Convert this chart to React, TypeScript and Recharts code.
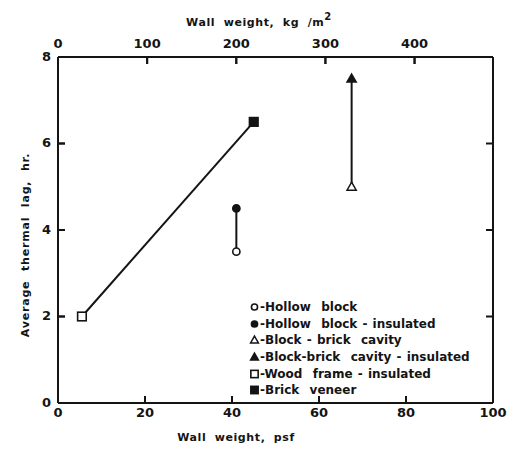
import React from "react";
import { ScatterChart, Scatter, XAxis, YAxis, Legend } from "recharts";

// wall types, in legend order
const wallTypes = [
  "Hollow  block",
  "Hollow  block - insulated",
  "Block - brick  cavity",
  "Block-brick  cavity - insulated",
  "Wood  frame - insulated",
  "Brick  veneer",
];
const weightPsf = [41, 41, 67.5, 67.5, 5.5, 45];
const lagHours = [3.5, 4.5, 5, 7.5, 2, 6.5];
// index pairs joined by a line (uninsulated -> insulated)
const pairs = [
  [4, 5],
  [0, 1],
  [2, 3],
];

const psfTicks = [0, 20, 40, 60, 80, 100];
const kgTicks = [0, 100, 200, 300, 400];
const lagTicks = [0, 2, 4, 6, 8];
const rightTicks = [2, 4, 6];
const KG_PER_PSF = 4.88;

const marks = [
  { shape: "circle", filled: false },
  { shape: "circle", filled: true },
  { shape: "triangle", filled: false },
  { shape: "triangle", filled: true },
  { shape: "square", filled: false },
  { shape: "square", filled: true },
];

const INK = "#141414";
const FONT = "'DejaVu Sans', sans-serif";
const TICK = 7;

function Marker({ cx, cy, shape, filled, scale = 1 }: any) {
  const fill = filled ? INK : "#fff";
  if (shape === "circle")
    return <circle cx={cx} cy={cy} r={3.6 * scale} fill={fill} stroke={INK} strokeWidth={1.6} />;
  if (shape === "square") {
    const h = 4.3 * scale;
    return <rect x={cx - h} y={cy - h} width={2 * h} height={2 * h} fill={fill} stroke={INK} strokeWidth={1.6} />;
  }
  const s = 4.6 * scale;
  return (
    <polygon
      points={`${cx},${cy - s} ${cx + s},${cy + s * 0.75} ${cx - s},${cy + s * 0.75}`}
      fill={fill}
      stroke={INK}
      strokeWidth={1.5}
    />
  );
}

// inward tick marks, drawn at points placed by the axis scales
const tickMark = (dx: number, dy: number) => (p: any) =>
  <line x1={p.cx} y1={p.cy} x2={p.cx + dx * TICK} y2={p.cy + dy * TICK} stroke={INK} strokeWidth={2} />;

const textStyle = { fontFamily: FONT, fontWeight: 700, fill: INK } as const;

function BottomTick({ x, y, payload }: any) {
  return (
    <text x={x} y={y} dy="0.78em" textAnchor="middle" fontSize={13} {...textStyle}>
      {payload.value}
    </text>
  );
}

function TopTick({ x, y, payload }: any) {
  return (
    <text x={x} y={y} textAnchor="middle" fontSize={13} {...textStyle}>
      {payload.value}
    </text>
  );
}

function LeftTick({ x, y, payload }: any) {
  return (
    <text x={x} y={y - 1} dy="0.36em" textAnchor="end" fontSize={13} {...textStyle}>
      {payload.value}
    </text>
  );
}

function LegendBox() {
  return (
    <div style={{ fontFamily: FONT, fontWeight: 700, fontSize: 12, color: INK, wordSpacing: 1 }}>
      {wallTypes.map((name, i) => (
        <div key={name} style={{ display: "flex", alignItems: "center", height: 16.6, whiteSpace: "pre" }}>
          <svg width={9} height={10} style={{ overflow: "visible" }}>
            <Marker cx={4.5} cy={5} {...marks[i]} scale={0.85} />
          </svg>
          <span style={{ marginLeft: 1 }}>{"-" + name}</span>
        </div>
      ))}
    </div>
  );
}

const points = wallTypes.map((name, i) => ({ name, x: weightPsf[i], y: lagHours[i] }));
const links = pairs.map(([a, b]) => [points[a], points[b]]);

const bottomMarks = psfTicks.map((v) => ({ x: v, y: 0 }));
const leftMarks = lagTicks.map((v) => ({ x: 0, y: v }));
const rightMarks = rightTicks.map((v) => ({ x: 100, y: v }));
const topMarks = kgTicks.map((v) => ({ x: v, y: 8 }));

const titleStyle: React.CSSProperties = {
  position: "absolute",
  fontFamily: FONT,
  fontWeight: 700,
  fontSize: 11,
  lineHeight: "11px",
  letterSpacing: 0.6,
  wordSpacing: 4,
  color: INK,
  whiteSpace: "nowrap",
};

export default function App() {
  return (
    <div style={{ position: "absolute", left: 0, top: 0, width: 525, height: 453, background: "#fff" }}>
      <ScatterChart width={525} height={453} margin={{ top: 27, right: 22, bottom: 20, left: 18 }}>
        <XAxis
          xAxisId="psf"
          type="number"
          dataKey="x"
          domain={[0, 100]}
          ticks={psfTicks}
          interval={0}
          height={30}
          axisLine={{ stroke: INK, strokeWidth: 2 }}
          tickLine={{ stroke: INK, strokeWidth: 2 }}
          tickSize={-TICK}
          tickMargin={TICK + 4}
          tick={BottomTick}
        />
        <XAxis
          xAxisId="kg"
          orientation="top"
          type="number"
          dataKey="x"
          domain={[0, 100 * KG_PER_PSF]}
          ticks={kgTicks}
          interval={0}
          height={30}
          axisLine={{ stroke: INK, strokeWidth: 2 }}
          tickLine={{ stroke: INK, strokeWidth: 2 }}
          tickSize={-TICK}
          tickMargin={TICK + 9}
          tick={TopTick}
        />
        <YAxis
          yAxisId="lag"
          type="number"
          dataKey="y"
          domain={[0, 8]}
          ticks={lagTicks}
          interval={0}
          width={40}
          axisLine={{ stroke: INK, strokeWidth: 2 }}
          tickLine={{ stroke: INK, strokeWidth: 2 }}
          tickSize={-TICK}
          tickMargin={TICK + 7}
          tick={LeftTick}
        />
        <YAxis
          yAxisId="right"
          orientation="right"
          type="number"
          dataKey="y"
          domain={[0, 8]}
          ticks={rightTicks}
          interval={0}
          width={10}
          axisLine={{ stroke: INK, strokeWidth: 2 }}
          tickLine={false}
          tick={false}
        />
        <Scatter xAxisId="psf" yAxisId="lag" data={bottomMarks} shape={tickMark(0, -1)} legendType="none" isAnimationActive={false} />
        <Scatter xAxisId="psf" yAxisId="lag" data={leftMarks} shape={tickMark(1, 0)} legendType="none" isAnimationActive={false} />
        <Scatter xAxisId="psf" yAxisId="lag" data={rightMarks} shape={tickMark(-1, 0)} legendType="none" isAnimationActive={false} />
        <Scatter xAxisId="kg" yAxisId="right" data={topMarks} shape={tickMark(0, 1)} legendType="none" isAnimationActive={false} />
        {links.map((pts, i) => (
          <Scatter
            key={"link" + i}
            xAxisId="psf"
            yAxisId="lag"
            data={pts}
            line={{ stroke: INK, strokeWidth: 2 }}
            shape={() => <g />}
            legendType="none"
            isAnimationActive={false}
          />
        ))}
        {points.map((p, i) => (
          <Scatter
            key={p.name}
            name={p.name}
            xAxisId="psf"
            yAxisId="lag"
            data={[p]}
            shape={(props: any) => <Marker cx={props.cx} cy={props.cy} {...marks[i]} />}
            isAnimationActive={false}
          />
        ))}
        <Legend
          layout="vertical"
          align="center"
          verticalAlign="middle"
          wrapperStyle={{ position: "absolute", left: 250, top: 299, width: "auto", height: "auto" }}
          content={LegendBox}
        />
      </ScatterChart>
      <div style={{ ...titleStyle, left: 236, top: 432, transform: "translateX(-50%)" }}>Wall weight, psf</div>
      <div style={{ ...titleStyle, left: 259, top: 17, transform: "translateX(-50%)" }}>
        Wall weight, kg /m<sup style={{ fontSize: 10, lineHeight: 0, verticalAlign: 0, position: "relative", top: -6 }}>2</sup>
      </div>
      <div style={{ ...titleStyle, left: 25, top: 245, transform: "translate(-50%, -50%) rotate(-90deg)", letterSpacing: 0.8, wordSpacing: 5 }}>
        Average thermal lag, hr.
      </div>
    </div>
  );
}
